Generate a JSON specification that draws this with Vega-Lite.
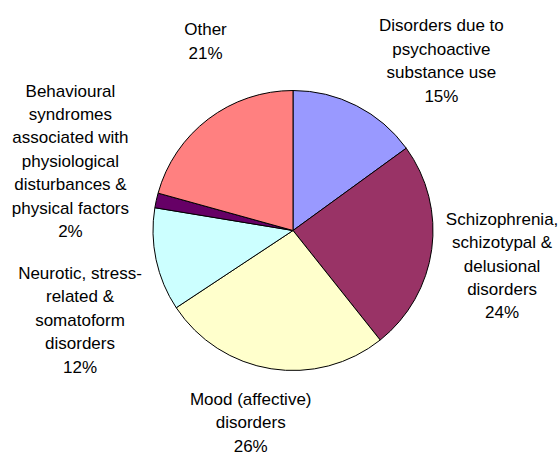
{
  "$schema": "https://vega.github.io/schema/vega-lite/v6.json",
  "autosize": {"type": "none"},
  "padding": {"left": 28, "top": 6, "right": 0, "bottom": 0},
  "width": 530,
  "height": 449,
  "background": "white",
  "view": {"stroke": null},
  "config": {"text": {"font": "Liberation Sans", "fontSize": 17, "lineHeight": 23.4, "align": "center", "baseline": "middle", "color": "#000000"}},
  "data": {"values": [
    {"category": "Disorders due to psychoactive substance use", "order": 1, "value": 15, "lines": ["Disorders due to", "psychoactive", "substance use", "15%"]},
    {"category": "Schizophrenia, schizotypal & delusional disorders", "order": 2, "value": 24.3, "lines": ["Schizophrenia,", "schizotypal &", "delusional", "disorders", "24%"]},
    {"category": "Mood (affective) disorders", "order": 3, "value": 26.4, "lines": ["Mood (affective)", "disorders", "26%"]},
    {"category": "Neurotic, stress-related & somatoform disorders", "order": 4, "value": 11.9, "lines": ["Neurotic, stress-", "related &", "somatoform", "disorders", "12%"]},
    {"category": "Behavioural syndromes associated with physiological disturbances & physical factors", "order": 5, "value": 1.7, "lines": ["Behavioural", "syndromes", "associated with", "physiological", "disturbances &", "physical factors", "2%"]},
    {"category": "Other", "order": 6, "value": 20.7, "lines": ["Other", "21%"]}
  ]},
  "transform": [
    {"stack": "value", "groupby": [], "sort": [{"field": "order", "order": "ascending"}], "as": ["v0", "v1"]},
    {"calculate": "(datum.v0 + datum.v1) / 2", "as": "mid"}
  ],
  "layer": [
    {
      "mark": {"type": "arc", "radius": 140, "stroke": "#000000", "strokeWidth": 1},
      "encoding": {
        "theta": {"field": "v0", "type": "quantitative", "stack": null, "scale": {"domain": [0, 100], "range": [0, 6.283185307179586]}},
        "theta2": {"field": "v1"},
        "color": {"field": "category", "type": "nominal", "legend": null, "scale": {
          "domain": ["Disorders due to psychoactive substance use", "Schizophrenia, schizotypal & delusional disorders", "Mood (affective) disorders", "Neurotic, stress-related & somatoform disorders", "Behavioural syndromes associated with physiological disturbances & physical factors", "Other"],
          "range": ["#9999FF", "#993366", "#FFFFCC", "#CCFFFF", "#660066", "#FF8080"]}}
      }
    },
    {
      "transform": [{"filter": {"field": "order", "equal": 1}}],
      "mark": {"type": "text", "radius": 219, "dx": 49, "dy": -9},
      "encoding": {"theta": {"field": "mid", "type": "quantitative", "stack": null, "scale": {"domain": [0, 100], "range": [0, 6.283185307179586]}}, "text": {"field": "lines"}}
    },
    {
      "transform": [{"filter": {"field": "order", "equal": 2}}],
      "mark": {"type": "text", "radius": 210, "dx": 1, "dy": -39},
      "encoding": {"theta": {"field": "mid", "type": "quantitative", "stack": null}, "text": {"field": "lines"}}
    },
    {
      "transform": [{"filter": {"field": "order", "equal": 3}}],
      "mark": {"type": "text", "radius": 200, "dx": -11, "dy": -28},
      "encoding": {"theta": {"field": "mid", "type": "quantitative", "stack": null}, "text": {"field": "lines"}}
    },
    {
      "transform": [{"filter": {"field": "order", "equal": 4}}],
      "mark": {"type": "text", "radius": 227, "dx": 9, "dy": -4},
      "encoding": {"theta": {"field": "mid", "type": "quantitative", "stack": null}, "text": {"field": "lines"}}
    },
    {
      "transform": [{"filter": {"field": "order", "equal": 5}}],
      "mark": {"type": "text", "radius": 232, "dx": 4, "dy": -89},
      "encoding": {"theta": {"field": "mid", "type": "quantitative", "stack": null}, "text": {"field": "lines"}}
    },
    {
      "transform": [{"filter": {"field": "order", "equal": 6}}],
      "mark": {"type": "text", "radius": 204, "dx": 36, "dy": -38},
      "encoding": {"theta": {"field": "mid", "type": "quantitative", "stack": null}, "text": {"field": "lines"}}
    }
  ]
}
